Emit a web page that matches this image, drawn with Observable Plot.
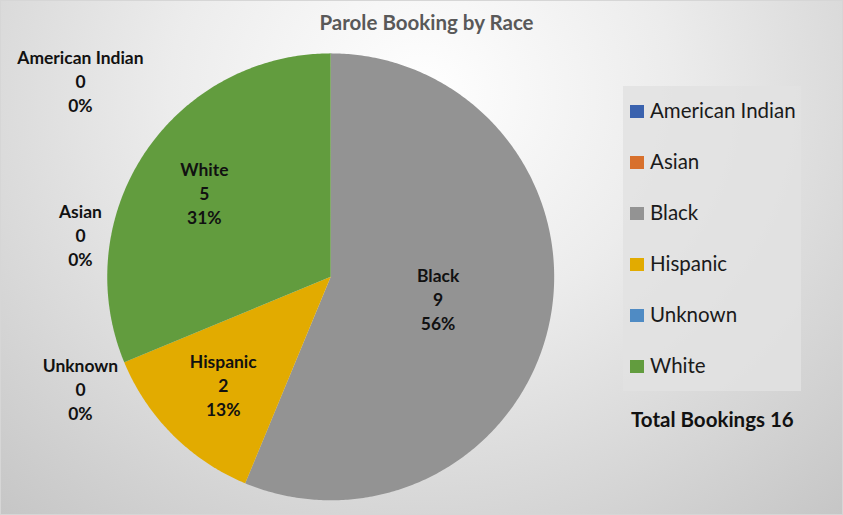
<!DOCTYPE html>
<html>
<head>
<meta charset="utf-8">
<script src="https://cdn.jsdelivr.net/npm/d3@7"></script>
<script src="https://cdn.jsdelivr.net/npm/@observablehq/plot@0.6"></script>
<style>
  html, body { margin: 0; padding: 0; }
  #chart {
    position: relative; width: 843px; height: 515px; box-sizing: border-box;
    border: 1px solid #d6d6d6; overflow: hidden;
    background: radial-gradient(ellipse 75% 110% at 50% 18%, #ffffff 0%, #ececec 40%, #d6d6d6 75%, #c6c6c6 100%);
    font-family: Lato, "Open Sans", sans-serif;
  }
  #title {
    position: absolute; left: 0; width: 851px; top: 9px; text-align: center;
    font-weight: bold; font-size: 20.5px; color: #595959;
  }
  #plot { position: absolute; left: 0; top: 0; }
  #legend {
    position: absolute; left: 622px; top: 85px; width: 178px; height: 305px;
    background: rgba(226,226,226,0.85); box-sizing: border-box; padding-top: 12px;
  }
  .item { height: 51px; display: flex; align-items: flex-start; font-size: 20.5px; color: #1a1a1a; }
  .sw { width: 14px; height: 13px; margin-left: 7px; margin-right: 6px; margin-top: 7px; flex: none; }
  #total {
    position: absolute; left: 630px; top: 406px; font-weight: bold; font-size: 20.5px; color: #111;
  }
</style>
</head>
<body>
<div id="chart">
  <div id="title"></div>
  <div id="plot"></div>
  <div id="legend"></div>
  <div id="total"></div>
</div>
<script>
const title = "Parole Booking by Race";
const races = ["American Indian", "Asian", "Black", "Hispanic", "Unknown", "White"];
const counts = [0, 0, 9, 2, 0, 5];
const colors = ["#3a62ae", "#d8702c", "#939393", "#e2ab00", "#4f8bc4", "#629c3e"];
const totalLabel = "Total Bookings";

const total = d3.sum(counts);
const arcs = d3.pie().sort(null)(counts);

// polygon points for each non-empty slice, in unit-circle coordinates
const slicePts = [];
arcs.forEach((a, i) => {
  if (a.value <= 0) return;
  const race = races[i];
  slicePts.push({race, x: 0, y: 0});
  const n = Math.max(2, Math.ceil((a.endAngle - a.startAngle) / 0.01));
  for (let k = 0; k <= n; k++) {
    const t = a.startAngle + (a.endAngle - a.startAngle) * k / n;
    slicePts.push({race, x: Math.sin(t), y: Math.cos(t)});
  }
  slicePts.push({race, x: 0, y: 0});
});

// labels
const labels = [];
let zi = 0;
arcs.forEach((a, i) => {
  const pct = Math.round(a.value / total * 100) + "%";
  const text = `${races[i]}\n${a.value}\n${pct}`;
  if (a.value > 0) {
    const mid = (a.startAngle + a.endAngle) / 2;
    const r = a.value / total > 0.5 ? 0.49 : 0.68;
    labels.push({text, x: r * Math.sin(mid), y: r * Math.cos(mid)});
  } else {
    labels.push({text, x: -1.12, y: 0.88 - 0.69 * zi});
    zi++;
  }
});

const plot = Plot.plot({
  width: 843, height: 515,
  marginLeft: 106, marginRight: 289, marginTop: 52, marginBottom: 15,
  x: {domain: [-1, 1], axis: null},
  y: {domain: [-1, 1], axis: null},
  color: {domain: races, range: colors},
  style: {background: "transparent", overflow: "visible"},
  marks: [
    Plot.line(slicePts, {x: "x", y: "y", z: "race", fill: "race", stroke: "none", curve: "linear"}),
    Plot.text(labels, {x: "x", y: "y", text: "text", fontSize: 17.5, fontWeight: "bold",
      fill: "#111", lineHeight: 24 / 17.5, fontFamily: "Lato, sans-serif"})
  ]
});
document.getElementById("plot").appendChild(plot);
document.getElementById("title").textContent = title;

const legend = document.getElementById("legend");
races.forEach((r, i) => {
  const it = document.createElement("div");
  it.className = "item";
  const sw = document.createElement("div");
  sw.className = "sw"; sw.style.background = colors[i];
  const tx = document.createElement("span"); tx.textContent = r;
  it.appendChild(sw); it.appendChild(tx);
  legend.appendChild(it);
});
document.getElementById("total").textContent = `${totalLabel} ${total}`;
</script>
</body>
</html>
